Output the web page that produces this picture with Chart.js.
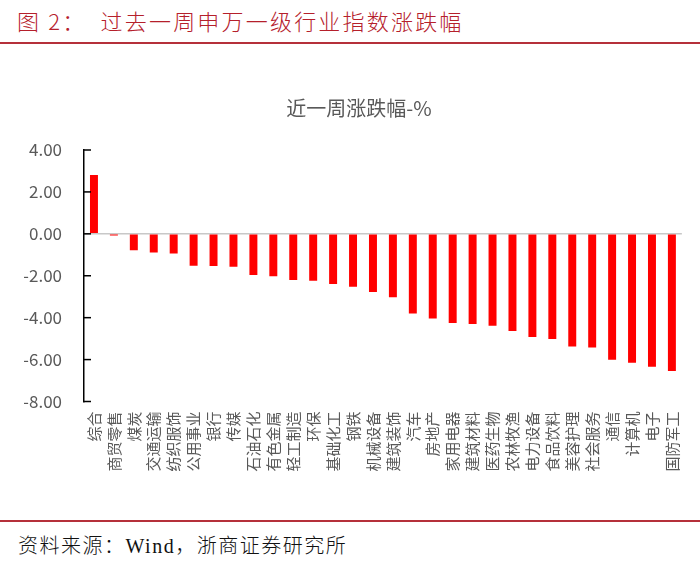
<!DOCTYPE html>
<html>
<head>
<meta charset="utf-8">
<script src="https://cdn.jsdelivr.net/npm/chart.js@4/dist/chart.umd.min.js"></script>
<style>
  html, body { margin: 0; padding: 0; background: #ffffff; }
  body { width: 700px; height: 564px; position: relative; overflow: hidden; }
  #header { position: absolute; left: 17px; top: 6px; font-family: "Noto Sans CJK SC", sans-serif; font-weight: 300; font-size: 22px; color: #b5202b; letter-spacing: 2.2px; white-space: pre; line-height: 28px; }
  #topline { position: absolute; left: 0; top: 42px; width: 700px; height: 2px; background: #b5303a; }
  #botline { position: absolute; left: 0; top: 520px; width: 700px; height: 2px; background: #b5303a; }
  #footer { position: absolute; left: 18px; top: 533px; font-family: "Liberation Serif", "Noto Sans CJK SC", serif; font-weight: 300; font-size: 20px; color: #111; letter-spacing: 1.5px; white-space: pre; line-height: 26px; }
  #wrap { position: absolute; left: 24px; top: 60px; width: 676px; height: 455px; }
</style>
</head>
<body>
<div id="header">图 2：  过去一周申万一级行业指数涨跌幅</div>
<div id="topline"></div>
<div id="wrap"><canvas id="c"></canvas></div>
<div id="botline"></div>
<div id="footer">资料来源：Wind，浙商证券研究所</div>
<script>
const categories = ["综合","商贸零售","煤炭","交通运输","纺织服饰","公用事业","银行","传媒","石油石化","有色金属","轻工制造","环保","基础化工","钢铁","机械设备","建筑装饰","汽车","房地产","家用电器","建筑材料","医药生物","农林牧渔","电力设备","食品饮料","美容护理","社会服务","通信","计算机","电子","国防军工"];
const weeklyChange = [2.81,-0.08,-0.78,-0.89,-0.94,-1.52,-1.53,-1.57,-1.96,-2.02,-2.20,-2.24,-2.39,-2.53,-2.77,-3.03,-3.80,-4.04,-4.25,-4.30,-4.39,-4.64,-4.92,-5.02,-5.37,-5.42,-6.01,-6.15,-6.34,-6.55];
const chartTitle = "近一周涨跌幅-%";
const yMin = -8, yMax = 4, yStep = 2;

const innerTicks = {
  id: 'innerTicks',
  afterDraw(chart) {
    const y = chart.scales.y;
    const ctx = chart.ctx;
    const x0 = chart.chartArea.left;
    ctx.save();
    ctx.strokeStyle = '#000000';
    ctx.lineWidth = 1.5;
    y.ticks.forEach(t => {
      const py = y.getPixelForValue(t.value);
      ctx.beginPath();
      ctx.moveTo(x0, py);
      ctx.lineTo(x0 + 7, py);
      ctx.stroke();
    });
    ctx.restore();
  }
};

new Chart(document.getElementById('c'), {
  type: 'bar',
  data: {
    labels: categories,
    datasets: [{
      data: weeklyChange,
      backgroundColor: '#ff0000',
      borderWidth: 0,
      barPercentage: 0.4,
      categoryPercentage: 1.0
    }]
  },
  options: {
    responsive: true,
    maintainAspectRatio: false,
    animation: false,
    layout: { padding: { left: 0, right: 6, top: 0, bottom: 0 } },
    plugins: {
      legend: { display: false },
      tooltip: { enabled: false },
      title: {
        display: true,
        text: chartTitle,
        color: '#595959',
        font: { family: '"Noto Sans CJK SC", sans-serif', size: 20, weight: 'normal' },
        padding: { top: 36, bottom: 30 }
      }
    },
    scales: {
      x: {
        grid: { display: false, drawTicks: false },
        border: { display: false },
        ticks: {
          autoSkip: false,
          minRotation: 90,
          maxRotation: 90,
          padding: 10,
          color: '#595959',
          font: { family: '"Noto Sans CJK SC", sans-serif', size: 15 }
        },
        afterFit(scale) { scale.height = 113.5; }
      },
      y: {
        min: yMin,
        max: yMax,
        grid: {
          drawTicks: false,
          lineWidth: 1.5,
          color: ctx => (ctx.tick && ctx.tick.value === 0) ? '#c8c8c8' : 'rgba(0,0,0,0)'
        },
        border: { display: true, color: '#000000', width: 1.5 },
        ticks: {
          stepSize: yStep,
          padding: 22,
          color: '#595959',
          font: { family: '"Noto Sans CJK SC", sans-serif', size: 17 },
          callback: v => Number(v).toFixed(2)
        },
        afterFit(scale) { scale.width = 60; }
      }
    }
  },
  plugins: [innerTicks]
});
</script>
</body>
</html>
